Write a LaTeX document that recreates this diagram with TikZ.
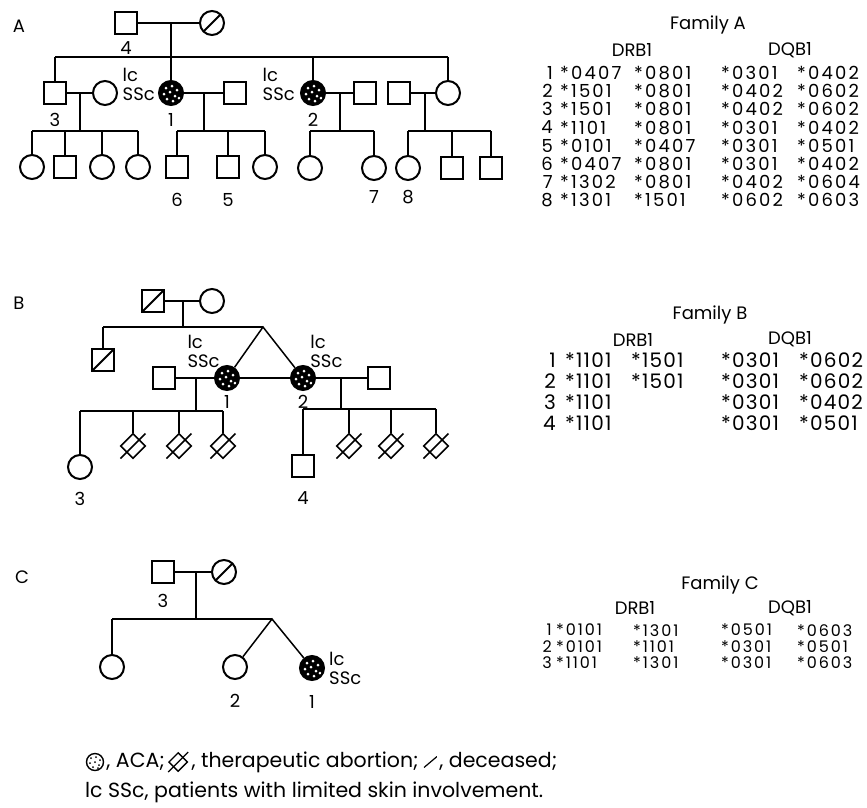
\documentclass[tikz,border=0pt]{standalone}
\usepackage{fontspec}
\setmainfont{Poppins}
\newfontfamily\hlafont[LetterSpace=12]{Poppins}
\newfontfamily\hlafontB[LetterSpace=6]{Poppins}
\usepackage{tikz}
\usetikzlibrary{shapes.geometric, positioning, calc}
\tikzset{
  male/.style={
    rectangle, draw, line width=2pt,
    minimum size=22pt, inner sep=0pt
  },
  female/.style={
    circle, draw, line width=2pt,
    minimum size=24pt, inner sep=0pt
  },
  dead/.style={
    path picture={\draw[line width=1.8pt]
      (path picture bounding box.south west) -- (path picture bounding box.north east);}
  },
  aca/.style={
    female, fill=black,
    path picture={\foreach \dx/\dy in {-5/-5, 1/-7, 6/-3, -7/1, -1/-1, 4/3, -4/6, 2/8, 8/5}
      \fill[white] ([shift={(\dx,\dy)}]path picture bounding box.center) circle (1.5pt);}
  },
  legaca/.style={
    circle, draw, line width=1.4pt,
    minimum size=17pt, inner sep=0pt,
    path picture={\foreach \dx/\dy in {-4/-4, 1/-5, 5/-2, -5/1, 0/0, 4/3, -2/5, 3/6}
      \fill ([shift={(\dx,\dy)}]path picture bounding box.center) circle (1pt);}
  },
  abort/.style={
    diamond, draw, line width=1.6pt,
    minimum width=25pt, minimum height=25pt, inner sep=0pt
  },
  legdead/.style={
    minimum width=13pt, minimum height=11pt, inner sep=0pt,
    path picture={\draw[line width=1.2pt]
      (path picture bounding box.south west) -- (path picture bounding box.north east);}
  },
  line/.style={draw, line width=1.5pt},
  tag/.style={font=\fontsize{18}{19}\selectfont, inner sep=0pt},
  note/.style={tag, align=left},
  key/.style={tag, font=\fontsize{20.5}{21}\selectfont, text height=14pt, text depth=4pt},
  colA/.style={font=\hlafont\fontsize{18}{18.2}\selectfont, inner sep=0pt, align=left, anchor=north west},
  colB/.style={colA, font=\hlafontB\fontsize{20}{21}\selectfont},
  colC/.style={colA, font=\hlafont\fontsize{16}{16.4}\selectfont},
}
\begin{document}
\begin{tikzpicture}[x=1pt, y=-1pt]
  \useasboundingbox (0,0) rectangle (867,807);

  % Family A
  \node[tag] (labA) at (19,26) {A};
  \node[male] (a4) at (126,23) {};
  \node[female, dead] (aW) at (212,23) {};
  \node[tag, below=6pt of a4] (a4n) {4};
  \coordinate (aS) at (171,57);

  \node[male] (a3) at (55,93) {};
  \node[female] (a3w) at (105,93) {};
  \node[aca] (a1) at (171,93) {};
  \node[male] (a1h) at (235,93) {};
  \node[aca] (a2) at (313,93) {};
  \node[male] (a2h) at (365,93) {};
  \node[male] (aRh) at (399,93) {};
  \node[female] (aR) at (448,93) {};
  \node[tag, below=8pt of a3] (a3n) {3};
  \node[tag, below=7pt of a1] (a1n) {1};
  \node[tag, below=7pt of a2] (a2n) {2};
  \node[note, left=3pt of a1, yshift=9pt] (a1t) {lc\\SSc};
  \node[note, left=5pt of a2, yshift=9pt] (a2t) {lc\\SSc};

  \coordinate (a3d) at (80,131);
  \coordinate (a1d) at (204,131);
  \coordinate (a2d) at (340,131);
  \coordinate (aRd) at (425,131);

  \node[female] (a31) at (32,167) {};
  \node[male] (a32) at (65,167) {};
  \node[female] (a33) at (102,167) {};
  \node[female] (a34) at (138,167) {};
  \node[male] (a6) at (177,167) {};
  \node[male] (a5) at (228,167) {};
  \node[female] (a13) at (265,167) {};
  \node[female] (a21) at (310,168) {};
  \node[female] (a7) at (374,168) {};
  \node[female] (a8) at (408,168) {};
  \node[male] (aR2) at (452,168) {};
  \node[male] (aR3) at (491,168) {};
  \node[tag, below=14pt of a6] (a6n) {6};
  \node[tag, below=14pt of a5] (a5n) {5};
  \node[tag, below=9pt of a7] (a7n) {7};
  \node[tag, below=9pt of a8] (a8n) {8};

  \draw[line] (a4) -- (aW);
  \draw[line] (aS |- a4) -- (aS);
  \draw[line] (a3 |- aS) -- (aR |- aS);
  \foreach \kid in {a3, a1, a2, aR} \draw[line] (\kid |- aS) -- (\kid);
  \draw[line] (a3) -- (a3w);
  \draw[line] (a1) -- (a1h);
  \draw[line] (a2) -- (a2h);
  \draw[line] (aRh) -- (aR);
  \foreach \drop/\lo/\hi in {a3d/a31/a34, a1d/a6/a13, a2d/a21/a7, aRd/a8/aR3} {
    \draw[line] (\drop |- a3) -- (\drop);
    \draw[line] (\lo |- \drop) -- (\hi |- \drop);
  }
  \foreach \kid/\drop in {a31/a3d, a32/a3d, a33/a3d, a34/a3d, a6/a1d, a5/a1d, a13/a1d,
                          a21/a2d, a7/a2d, a8/aRd, aR2/aRd, aR3/aRd}
    \draw[line] (\kid |- \drop) -- (\kid);

  % Family B
  \node[tag] (labB) at (19,303) {B};
  \node[male, dead] (bF) at (153,301) {};
  \node[female] (bM) at (212,301) {};
  \coordinate (bD) at (183,327);
  \coordinate (bT) at (263,327);
  \node[male, dead] (b0) at (103,360) {};
  \node[aca] (b1) at (227,378) {};
  \node[aca] (b2) at (303,378) {};
  \node[male] (b1h) at (164,378) {};
  \node[male] (b2h) at (379,378) {};
  \node[note, above left=1pt and -2pt of b1] (b1t) {lc\\SSc};
  \node[note, above right=1pt and -2pt of b2] (b2t) {lc\\SSc};
  \node[tag, below=4pt of b1] (b1n) {1};
  \node[tag, below=4pt of b2] (b2n) {2};

  \coordinate (b1d) at (196,411);
  \coordinate (b2d) at (341,409);
  \node[female] (b3) at (80,467) {};
  \node[abort] (bx1) at (133,446) {};
  \node[abort] (bx2) at (179,446) {};
  \node[abort] (bx3) at (223,446) {};
  \node[male] (b4) at (303,466) {};
  \node[abort] (by1) at (349,446) {};
  \node[abort] (by2) at (391,446) {};
  \node[abort] (by3) at (436,446) {};
  \node[tag, below=12pt of b3] (b3n) {3};
  \node[tag, below=13pt of b4] (b4n) {4};

  \draw[line] (bF) -- (bM);
  \draw[line] (bD |- bF) -- (bD);
  \draw[line] (b0 |- bT) -- (bT);
  \draw[line] (b0 |- bT) -- (b0);
  \draw[line] (b1) -- (bT) -- (b2);
  \draw[line] (b1) -- (b2);
  \draw[line] (b1h) -- (b1);
  \draw[line] (b2) -- (b2h);
  \draw[line] (b1d |- b1) -- (b1d);
  \draw[line] (b2d |- b2) -- (b2d);
  \draw[line] (b3 |- b1d) -- (bx3 |- b1d);
  \draw[line] (b4 |- b2d) -- (by3 |- b2d);
  \foreach \kid/\drop in {b3/b1d, bx1/b1d, bx2/b1d, bx3/b1d, b4/b2d, by1/b2d, by2/b2d, by3/b2d}
    \draw[line] (\kid |- \drop) -- (\kid);
  \foreach \kid in {bx1, bx2, bx3, by1, by2, by3}
    \draw[line] ([shift={(-12.5,12.5)}]\kid.center) -- ([shift={(12.5,-12.5)}]\kid.center);

  % Family C
  \node[tag] (labC) at (22,577) {C};
  \node[male] (cF) at (163,572) {};
  \node[female, dead] (cM) at (224,572) {};
  \node[tag, below=10pt of cF] (cFn) {3};
  \coordinate (cD) at (196,619);
  \coordinate (cT) at (272,619);
  \node[female] (c0) at (112,667) {};
  \node[female] (c2) at (235,667) {};
  \node[aca] (c1) at (312,668) {};
  \node[note, right=4pt of c1] (c1t) {lc\\SSc};
  \node[tag, below=14pt of c2] (c2n) {2};
  \node[tag, below=14pt of c1] (c1n) {1};

  \draw[line] (cF) -- (cM);
  \draw[line] (cD |- cF) -- (cD);
  \draw[line] (c0 |- cD) -- (cT);
  \draw[line] (c0 |- cD) -- (c0);
  \draw[line] (c2) -- (cT) -- (c1);

  % HLA tables
  \node[tag] (tA) at (708,25) {Family A};
  \node[tag] (tAdr) at (632,50) {DRB1};
  \node[tag] (tAdq) at (790,50) {DQB1};
  \node[colA, anchor=north east, align=right] (tAn) at (553,66) {1\\2\\3\\4\\5\\6\\7\\8};
  \node[colA] (tAr1) at (560,66) {*0407\\*1501\\*1501\\*1101\\*0101\\*0407\\*1302\\*1301};
  \node[colA] (tAr2) at (634,66) {*0801\\*0801\\*0801\\*0801\\*0407\\*0801\\*0801\\*1501};
  \node[colA] (tAq1) at (721,66) {*0301\\*0402\\*0402\\*0301\\*0301\\*0301\\*0402\\*0602};
  \node[colA] (tAq2) at (797,66) {*0402\\*0602\\*0602\\*0402\\*0501\\*0402\\*0604\\*0603};

  \node[tag] (tB) at (710,315) {Family B};
  \node[tag] (tBdr) at (633,340) {DRB1};
  \node[tag] (tBdq) at (790,339) {DQB1};
  \node[colB, anchor=north east, align=right] (tBn) at (556,353) {1\\2\\3\\4};
  \node[colB] (tBr1) at (565,353) {*1101\\*1101\\*1101\\*1101};
  \node[colB] (tBr2) at (631,353) {*1501\\*1501};
  \node[colB] (tBq1) at (721,353) {*0301\\*0301\\*0301\\*0301};
  \node[colB] (tBq2) at (799,353) {*0602\\*0602\\*0402\\*0501};

  \node[tag] (tC) at (720,585) {Family C};
  \node[tag] (tCdr) at (635,608) {DRB1};
  \node[tag] (tCdq) at (790,608) {DQB1};
  \node[colC, anchor=north east, align=right] (tCn) at (552,624) {1\\2\\3};
  \node[colC] (tCr1) at (556,624) {*0101\\*0101\\*1101};
  \node[colC] (tCr2) at (633,624) {*1301\\*1101\\*1301};
  \node[colC] (tCq1) at (721,624) {*0501\\*0301\\*0301};
  \node[colC] (tCq2) at (797,624) {*0603\\*0501\\*0603};

  % Legend
  \node[legaca] (lgA) at (95,762) {};
  \node[key, right=2pt of lgA] (lgAt) {, ACA;};
  \node[abort, line width=1.3pt, minimum width=19pt, minimum height=19pt, right=3pt of lgAt] (lgB) {};
  \node[key, right=3pt of lgB] (lgBt) {, therapeutic abortion;};
  \node[legdead, right=5pt of lgBt] (lgC) {};
  \node[key, right=2pt of lgC] (lgCt) {, deceased;};
  \node[key, anchor=west] (lgD) at (85,792) {lc SSc, patients with limited skin involvement.};
  \draw[line, line width=1.3pt] ([shift={(-10,10)}]lgB.center) -- ([shift={(10,-10)}]lgB.center);
\end{tikzpicture}
\end{document}
